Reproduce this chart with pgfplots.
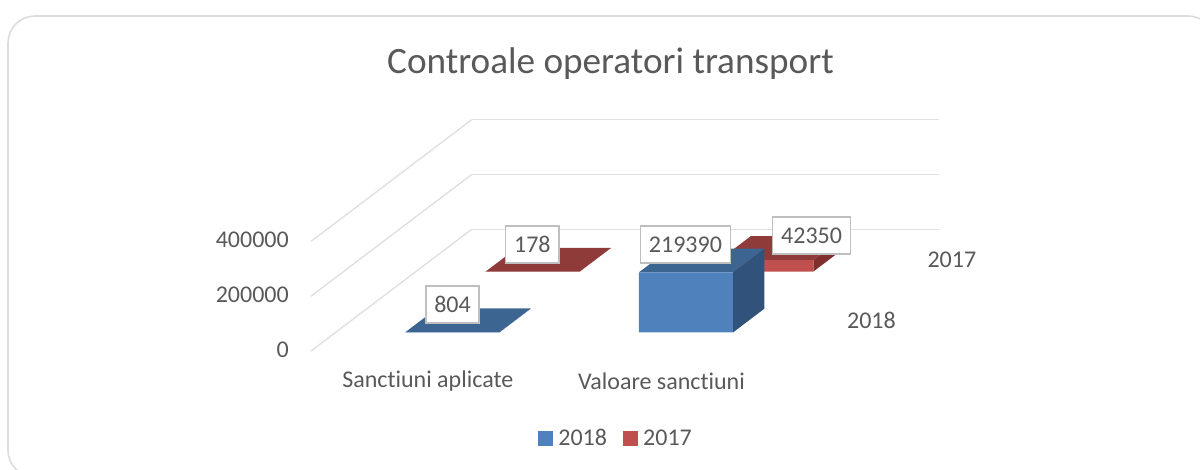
\documentclass[border=0pt]{standalone}
\usepackage{pgfplots}
\pgfplotsset{compat=1.18}
\usepackage{fontspec}
\setmainfont{Carlito}[Ligatures=NoCommon]
\definecolor{txt}{HTML}{595959}
\definecolor{gridc}{HTML}{E0E0E0}
\definecolor{framec}{HTML}{DCDCDC}
\definecolor{bF}{HTML}{4F81BD}
\definecolor{bT}{HTML}{3D6592}
\definecolor{bS}{HTML}{30527B}
\definecolor{rF}{HTML}{C0504D}
\definecolor{rT}{HTML}{8F3B39}
\definecolor{rS}{HTML}{7F2F2D}
% #1 x centre, #2 y centre, #3 value, #4 front, #5 top, #6 side
\newcommand\cuboid[6]{%
 \pgfmathsetmacro\xa{#1-0.2012}\pgfmathsetmacro\xb{#1+0.2012}%
 \pgfmathsetmacro\ya{#2-0.1955}\pgfmathsetmacro\yb{#2+0.1955}%
 \edef\tmp{\noexpand\addplot3[fill=#6,draw=none,forget plot] coordinates {(\xb,\ya,0) (\xb,\yb,0) (\xb,\yb,#3) (\xb,\ya,#3) (\xb,\ya,0)};
 \noexpand\addplot3[fill=#5,draw=none,forget plot] coordinates {(\xa,\ya,#3) (\xb,\ya,#3) (\xb,\yb,#3) (\xa,\yb,#3) (\xa,\ya,#3)};
 \noexpand\addplot3[fill=#4,draw=none,forget plot] coordinates {(\xa,\ya,0) (\xb,\ya,0) (\xb,\ya,#3) (\xa,\ya,#3) (\xa,\ya,0)};}\tmp}
\tikzset{dl/.style={fill=white,draw=black!25,line width=1.5pt,text=txt,font=\fontsize{24}{24}\selectfont,minimum height=37pt,inner xsep=8.5pt,inner ysep=0pt,anchor=center}}
\begin{document}
\begin{tikzpicture}[x=1pt,y=1pt]
\useasboundingbox (0,0) rectangle (1200,469);
\begin{scope}
\clip (0,0) rectangle (1200,469);
\draw[framec,line width=1.6pt,rounded corners=27pt] (8,-8) rectangle (1215,453);
\end{scope}
\node[text=txt,font=\fontsize{37.2}{37.2}\selectfont] at (610.5,405.5) {Controale operatori transport};
\begin{axis}[
 anchor=origin, at={(311pt,118pt)},
 x={(233.65pt,0pt)}, y={(80.35pt,60.85pt)}, z={(0pt,27.4pt)},
 z coord trafo/.code={\pgfmathfloatparsenumber{#1}\let\zza\pgfmathresult\pgfmathfloatcreate{1}{1.0}{-5}\let\zzb\pgfmathresult\pgfmathfloatmultiply{\zza}{\zzb}\pgfmathfloattofixed{\pgfmathresult}},
 xmin=0,xmax=2,ymin=0,ymax=2,zmin=0,zmax=400000,
 clip=false,
 axis line style={draw=none},
 major tick length=0pt,
 tick style={draw=none},
 scaled ticks=false,
 xtick={0.5,1.5}, xticklabels={Sanctiuni aplicate,Valoare sanctiuni},
 ytick={0.5,1.5}, yticklabels={2018,2017},
 ztick={0,200000,400000}, zticklabels={0,200000,400000},
 tick label style={text=txt,font=\fontsize{24}{24}\selectfont},
 xticklabel style={anchor=center,yshift=-30pt},
 yticklabel style={anchor=center,xshift=53pt},
 zticklabel style={anchor=east,inner xsep=0pt,xshift=-22pt,yshift=1.5pt},
 zmajorgrids, grid style={gridc,line width=1.4pt},
 legend columns=2,
 legend style={draw=none,fill=none,text=txt,font=\fontsize{24}{24}\selectfont,at={(0.5,0)},anchor=center,xshift=-9pt,yshift=-87pt,/tikz/column 2/.style={column sep=14pt}},
 legend image code/.code={\fill[#1] (0pt,-7pt) rectangle (14pt,7pt);\path[draw=none,fill=none] (0pt,0pt) -- (18pt,0pt);},
]
\addlegendimage{bF}\addlegendentry{2018}
\addlegendimage{rF}\addlegendentry{2017}
\cuboid{0.5}{1.5}{178}{rF}{rT}{rS}
\cuboid{1.5}{1.5}{42350}{rF}{rT}{rS}
\cuboid{0.5}{0.5}{804}{bF}{bT}{bS}
\cuboid{1.5}{0.5}{219390}{bF}{bT}{bS}
\node[dl] at (axis cs:0.5,0.5,804) [xshift=-15.5pt,yshift=15.7pt] {804};
\node[dl] at (axis cs:0.5,1.5,178) [xshift=-16pt,yshift=15pt] {178};
\node[dl] at (axis cs:1.5,0.5,219390) [xshift=-16.2pt,yshift=15.8pt] {219390};
\node[dl] at (axis cs:1.5,1.5,42350) [xshift=29.6pt,yshift=12.6pt] {42350};
\end{axis}
\end{tikzpicture}
\end{document}
